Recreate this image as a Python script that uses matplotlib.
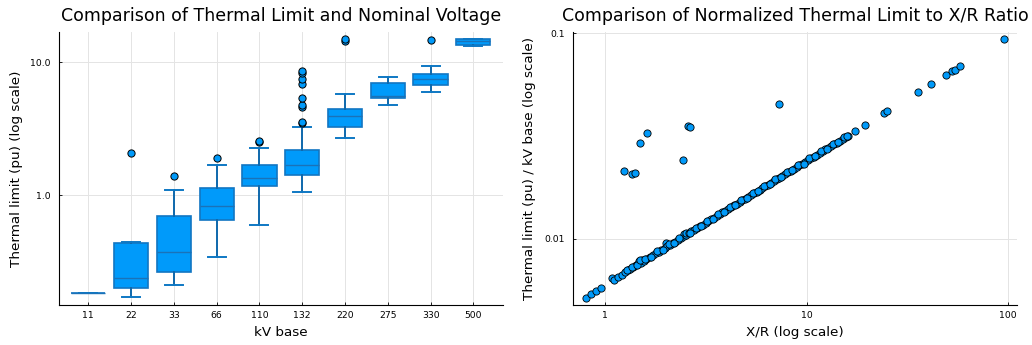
import matplotlib
matplotlib.use("Agg")
from matplotlib import pyplot as plt

# left panel: box stats per kV base
kv_labels = ["11", "22", "33", "66", "110", "132", "220", "275", "330", "500"]
q1 = [0.186, 0.202, 0.266, 0.651, 1.167, 1.41, 3.27, 5.36, 6.70, 13.5]
med = [0.186, 0.240, 0.376, 0.828, 1.34, 1.675, 3.91, 5.57, 7.47, 14.3]
q3 = [0.186, 0.438, 0.697, 1.128, 1.694, 2.17, 4.44, 6.93, 8.09, 15.0]
wlo = [0.186, 0.173, 0.213, 0.344, 0.597, 1.05, 2.70, 4.77, 6.00, 13.1]
whi = [0.186, 0.446, 1.09, 1.675, 2.28, 3.27, 5.77, 7.78, 9.38, 15.0]
fliers = [
    [],
    [2.09],
    [1.387],
    [1.92],
    [2.50, 2.55],
    [3.50, 3.57, 4.60, 4.77, 5.38, 6.85, 7.47, 8.27, 8.57],
    [14.4, 14.8],
    [],
    [14.7],
    [],
]

# right panel: X/R ratio vs normalised thermal limit
xr = [0.799, 0.852, 0.895, 0.955, 1.083, 1.10, 1.156, 1.214,
      1.25, 1.30, 1.33, 1.38, 1.42, 1.46, 1.47, 1.50, 1.52, 1.55, 1.60, 1.66,
      1.72, 1.78, 1.84, 1.90, 1.97, 2.00, 2.03, 2.10, 2.16, 2.22, 2.30, 2.37,
      2.45, 2.45, 2.52, 2.52, 2.60, 2.68, 2.77, 2.86, 2.95, 3.05, 3.15, 3.25,
      3.36, 3.47, 3.58, 3.70, 3.82, 3.95, 4.08, 4.22, 4.36, 4.50, 4.65, 4.80,
      4.96, 5.12, 5.30, 5.47, 5.65, 5.84, 6.03, 6.23, 6.44, 6.65, 6.87, 7.10,
      7.33, 7.57, 7.82, 8.08, 8.35, 8.62, 8.91, 9.20, 9.50, 9.82, 10.15, 10.48,
      10.83, 11.2, 11.6, 12.0, 12.4, 12.8, 13.2, 13.7, 14.1, 14.6, 15.1, 15.6,
      16.0,
      1.275, 1.355, 1.44, 1.49, 1.575, 1.69, 1.81, 1.935, 2.065, 2.19, 2.335,
      2.64, 2.815, 3.00, 3.20, 3.415, 3.64, 3.885, 4.15, 4.43, 4.725, 5.04,
      5.385, 5.745, 6.13, 6.545, 6.985, 7.45, 7.95, 8.485, 9.055, 9.66,
      10.315, 11.0, 11.8, 12.6, 13.45, 14.35, 15.35, 15.8,
      17.34, 19.59, 24.15, 24.99, 35.75, 41.66, 49.2, 52.7, 54.3, 58.0, 95.5,
      1.238, 1.362, 1.409, 1.480, 1.603, 2.429, 2.582, 2.622, 7.25]
yr = [0.00516, 0.00536, 0.00558, 0.00575, 0.00641, 0.00629, 0.00649, 0.00668,
      0.00686, 0.00702, 0.00712, 0.00728, 0.00741, 0.00753, 0.00780, 0.00765,
      0.00790, 0.00780, 0.00795, 0.00813, 0.00831, 0.00848, 0.00865, 0.00882,
      0.00901, 0.00950, 0.00918, 0.00936, 0.00952, 0.00968, 0.00989, 0.01007,
      0.01027, 0.01050, 0.01045, 0.01062, 0.01064, 0.01084, 0.01106, 0.01127,
      0.01148, 0.01171, 0.01194, 0.01217, 0.01242, 0.01266, 0.01290, 0.01316,
      0.01341, 0.01368, 0.01395, 0.01423, 0.01452, 0.01479, 0.01509, 0.01538,
      0.01568, 0.01599, 0.01632, 0.01663, 0.01696, 0.01730, 0.01763, 0.01798,
      0.01834, 0.01870, 0.01907, 0.01945, 0.01983, 0.02021, 0.02061, 0.02102,
      0.02144, 0.02185, 0.02229, 0.02272, 0.02316, 0.02363, 0.02410, 0.02457,
      0.02506, 0.02557, 0.02611, 0.02665, 0.02718, 0.02770, 0.02822, 0.02885,
      0.02936, 0.02998, 0.03059, 0.03119, 0.03167,
      0.00700, 0.00726, 0.00740, 0.00785, 0.00797, 0.00815, 0.00866, 0.00885,
      0.00937, 0.00952, 0.01010, 0.01066, 0.01128, 0.01150, 0.01218, 0.01245,
      0.01316, 0.01344, 0.01423, 0.01455, 0.01538, 0.01572, 0.01663, 0.01701,
      0.01797, 0.01839, 0.01945, 0.01988, 0.02102, 0.02149, 0.02272, 0.02322,
      0.02457, 0.02514, 0.02664, 0.02726, 0.02882, 0.02948, 0.03110, 0.03150,
      0.03334, 0.03589, 0.04074, 0.04185, 0.05164, 0.05664, 0.06293, 0.06577,
      0.06651, 0.06966, 0.09419,
      0.02138, 0.02065, 0.02080, 0.02923, 0.03273, 0.02404, 0.03548, 0.03483,
      0.04509]

BLUE = "#009AFA"


def style_axes(ax):
    for side in ["top", "right"]:
        ax.spines[side].set_visible(False)
    for side in ["left", "bottom"]:
        ax.spines[side].set_linewidth(0.8)
        ax.spines[side].set_color("black")
    ax.grid(True, color="#E4E4E4", linewidth=0.7)
    ax.set_axisbelow(True)
    ax.tick_params(axis="both", which="major", direction="in", length=2.5,
                   width=0.6, labelsize=6.7, colors="black")
    ax.tick_params(axis="x", pad=4)
    ax.tick_params(axis="y", pad=6)
    ax.tick_params(which="minor", length=0)


def main():
    plt.rcParams["font.family"] = ["DejaVu Sans"]
    fig = plt.figure(figsize=(10.32, 3.45), dpi=100)

    # left: boxplots
    ax1 = fig.add_axes([0.0569, 0.1159, 0.4308, 0.7922])
    stats = []
    for i in range(len(kv_labels)):
        stats.append({"med": med[i], "q1": q1[i], "q3": q3[i],
                      "whislo": wlo[i], "whishi": whi[i],
                      "fliers": fliers[i], "label": kv_labels[i]})
    ax1.bxp(stats, positions=list(range(1, len(kv_labels) + 1)), widths=0.8,
            capwidths=0.42, patch_artist=True,
            boxprops=dict(facecolor=BLUE, edgecolor="#1276C2", linewidth=1.2),
            medianprops=dict(color="#1A72B8", linewidth=1.0),
            whiskerprops=dict(color="#0E68AC", linewidth=1.4),
            capprops=dict(color="#0E78C4", linewidth=1.4),
            flierprops=dict(marker="o", markerfacecolor=BLUE,
                            markeredgecolor="black", markeredgewidth=0.7,
                            markersize=5.2))
    ax1.set_yscale("log")
    ax1.set_ylim(0.150, 16.9)
    ax1.set_xlim(0.308, 10.70)
    ax1.set_yticks([1.0, 10.0])
    ax1.set_yticklabels(["1.0", "10.0"])
    ax1.yaxis.set_minor_locator(matplotlib.ticker.NullLocator())
    style_axes(ax1)
    ax1.set_title("Comparison of Thermal Limit and Nominal Voltage",
                  fontsize=12.5, pad=7.5)
    ax1.set_xlabel("kV base", fontsize=9.7)
    ax1.set_ylabel("Thermal limit (pu) (log scale)", fontsize=9.7)
    ax1.xaxis.set_label_coords(0.5, -0.076)
    ax1.yaxis.set_label_coords(-0.080, 0.5)

    # right: scatter
    ax2 = fig.add_axes([0.5552, 0.1159, 0.4302, 0.7922])
    ax2.scatter(xr, yr, s=27, c=BLUE, edgecolors="black", linewidths=0.6,
                zorder=3)
    ax2.set_xscale("log")
    ax2.set_yscale("log")
    ax2.set_xlim(0.691, 110.8)
    ax2.set_ylim(0.00475, 0.1018)
    ax2.set_xticks([1, 10, 100])
    ax2.set_xticklabels(["1", "10", "100"])
    ax2.set_yticks([0.01, 0.1])
    ax2.set_yticklabels(["0.01", "0.1"])
    ax2.xaxis.set_minor_locator(matplotlib.ticker.NullLocator())
    ax2.yaxis.set_minor_locator(matplotlib.ticker.NullLocator())
    style_axes(ax2)
    ax2.set_title("Comparison of Normalized Thermal Limit to X/R Ratio",
                  fontsize=12.5, pad=7.5)
    ax2.set_xlabel("X/R (log scale)", fontsize=9.7)
    ax2.set_ylabel("Thermal limit (pu) / kV base (log scale)", fontsize=9.7)
    ax2.xaxis.set_label_coords(0.5, -0.076)
    ax2.yaxis.set_label_coords(-0.083, 0.5)

    fig.savefig("out.png", dpi=100)


if __name__ == '__main__':
    main()
